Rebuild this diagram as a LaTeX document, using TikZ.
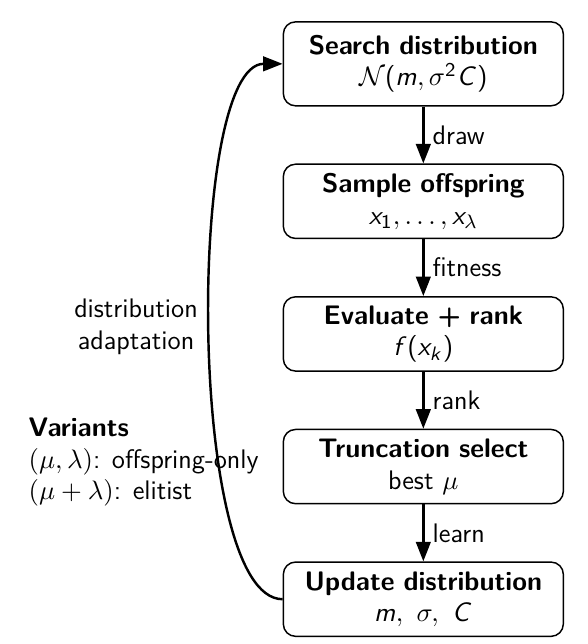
\documentclass[tikz,border=0pt]{standalone}
\usepackage{amsmath, amssymb}
\usepackage{tikz}
\usetikzlibrary{positioning, arrows.meta}

% sans math for the stage boxes
\DeclareMathVersion{sfm}
\SetSymbolFont{operators}{sfm}{OT1}{cmss}{m}{n}
\DeclareSymbolFont{sfsl}{OT1}{cmss}{m}{sl}
\DeclareMathSymbol{m}{\mathalpha}{sfsl}{`m}
\DeclareMathSymbol{C}{\mathalpha}{sfsl}{`C}
\DeclareMathSymbol{x}{\mathalpha}{sfsl}{`x}
\DeclareMathSymbol{f}{\mathalpha}{sfsl}{`f}
\DeclareMathSymbol{k}{\mathalpha}{sfsl}{`k}

\begin{document}
\begin{tikzpicture}[font=\sffamily\fontsize{11}{13}\selectfont,
    stage/.style={draw, rounded corners=5pt, semithick, align=center, text width=3.8cm,
        minimum width=4.02cm, minimum height=1.07cm, font=\sffamily\fontsize{11}{13}\selectfont\mathversion{sfm}},
    flow/.style={-{Triangle[length=8pt,width=6pt]}, line width=1pt}]
    \useasboundingbox (0,0) rectangle (8.47,-9.28);
    \node[stage, minimum height=1.21cm] (search) at (6.10,-0.92) {\textbf{Search distribution}\\ $\mathcal{N}(m,\sigma^2 C)$};
    \node[stage, below=0.82cm of search] (sample) {\textbf{Sample offspring}\\ $x_1,\dots,x_\lambda$};
    \node[stage, below=0.82cm of sample] (evaluate) {\textbf{Evaluate + rank}\\ $f(x_k)$};
    \node[stage, below=0.82cm of evaluate] (select) {\textbf{Truncation select}\\ best $\mu$};
    \node[stage, below=0.82cm of select] (update) {\textbf{Update distribution}\\ $m,\ \sigma,\ C$};
    \draw[flow] (search) -- node[right] {draw} (sample);
    \draw[flow] (sample) -- node[right] {fitness} (evaluate);
    \draw[flow] (evaluate) -- node[right] {rank} (select);
    \draw[flow] (select) -- node[right] {learn} (update);
    \draw[flow] (update.west) to[out=180, in=180, looseness=0.46] (search.west);
    \node[align=center] (adapt) at (1.96,-4.71) {distribution\\adaptation};
    \node[align=left, anchor=west] (variants) at (0.29,-6.66) {\textbf{Variants}\\ $(\mu,\lambda)$: offspring-only\\ $(\mu+\lambda)$: elitist};
\end{tikzpicture}
\end{document}
